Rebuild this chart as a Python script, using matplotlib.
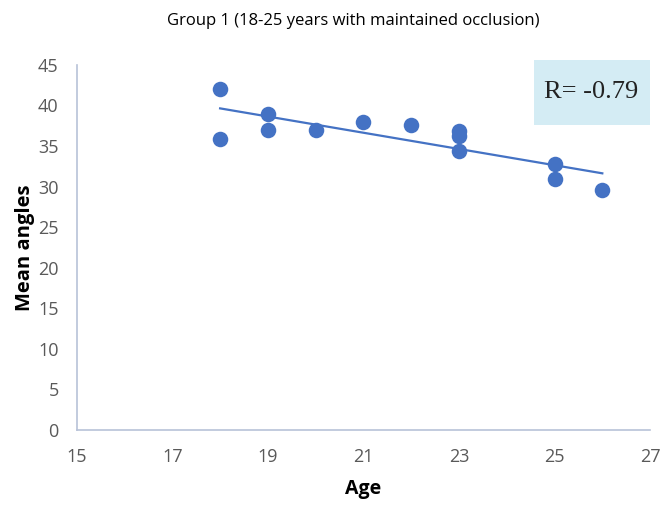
import matplotlib
matplotlib.use("Agg")
import matplotlib.pyplot as plt
from matplotlib.patches import Rectangle
import numpy as np

age = [18, 18, 19, 19, 20, 21, 22, 23, 23, 23, 25, 25, 26]
mean_angle = [42.0, 35.9, 39.0, 37.0, 37.0, 38.0, 37.6, 36.9, 36.2, 34.4, 32.8, 30.9, 29.6]
x_ticks = [15, 17, 19, 21, 23, 25, 27]
y_ticks = [0, 5, 10, 15, 20, 25, 30, 35, 40, 45]
r_label = "R= -0.79"

fig = plt.figure(figsize=(6.62, 5.11), dpi=100)
ax = fig.add_axes([0.116, 0.1585, 0.866, 0.7145])

blue = "#4472C4"
ax.scatter(age, mean_angle, s=125, color=blue, zorder=3, linewidths=0)
coef = np.polyfit(age, mean_angle, 1)
xs = np.array([min(age), max(age)])
ax.plot(xs, np.polyval(coef, xs), color=blue, lw=1.6, zorder=2)

ax.set_xlim(15, 27)
ax.set_ylim(0, 45)
ax.set_xticks(x_ticks)
ax.set_yticks(y_ticks)
ax.tick_params(length=0, labelsize=13, colors="#595959", pad=13)
for lab in ax.get_xticklabels() + ax.get_yticklabels():
    lab.set_family("Open Sans")
for s in ["top", "right"]:
    ax.spines[s].set_visible(False)
for s in ["left", "bottom"]:
    ax.spines[s].set_color("#b8c2d8")
    ax.spines[s].set_linewidth(1.2)

ax.set_xlabel("Age", fontsize=14, fontweight="bold", labelpad=9, family="Open Sans")
ax.set_ylabel("Mean angles", fontsize=14.5, fontweight="bold", labelpad=2, family="Open Sans")
fig.suptitle("Group 1 (18-25 years with maintained occlusion)", fontsize=12, y=0.975, x=0.533,
             family="Open Sans")

ax.add_patch(Rectangle((0.797, 0.836), 0.203, 0.178, transform=ax.transAxes,
                       facecolor="#d4ecf4", edgecolor="none", clip_on=False, zorder=1))
ax.text(0.898, 0.925, r_label, transform=ax.transAxes, ha="center", va="center",
        fontsize=19, family="Liberation Serif", color="#222222", zorder=4)

fig.savefig("out.png", dpi=100)
